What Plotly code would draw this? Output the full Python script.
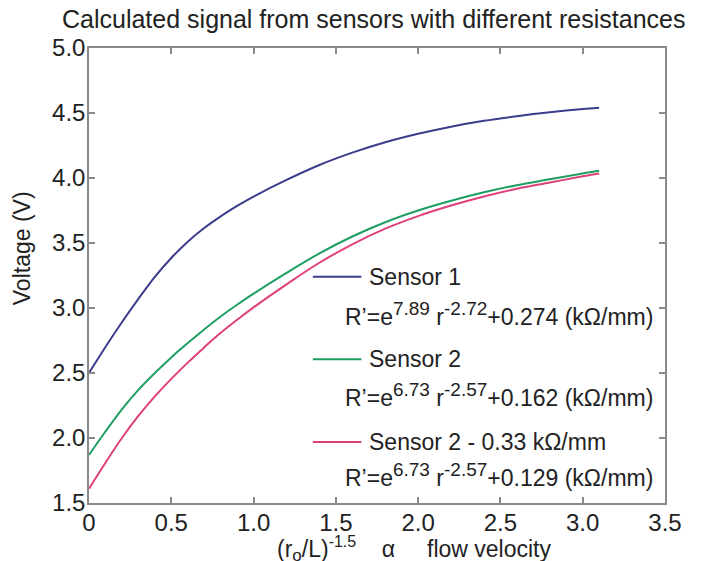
import plotly.graph_objects as go

# Normalised flow parameter (r_o/L)^-1.5
flow = [0, 0.1, 0.2, 0.3, 0.4, 0.5, 0.6, 0.7, 0.8, 0.9, 1.0, 1.2, 1.4, 1.6,
        1.8, 2.0, 2.2, 2.4, 2.6, 2.8, 3.0, 3.1]

# Calculated output voltage for each sensor (V)
sensor1 = [2.50, 2.70, 2.89, 3.07, 3.24, 3.385, 3.51, 3.615, 3.705, 3.785, 3.857,
           3.985, 4.10, 4.195, 4.275, 4.34, 4.395, 4.44, 4.475, 4.505, 4.53, 4.54]
sensor2 = [1.87, 2.05, 2.22, 2.37, 2.50, 2.62, 2.73, 2.835, 2.935, 3.025, 3.11,
           3.27, 3.42, 3.55, 3.66, 3.75, 3.825, 3.89, 3.945, 3.99, 4.035, 4.055]
sensor2_shift = [1.61, 1.81, 2.00, 2.17, 2.32, 2.455, 2.58, 2.697, 2.809, 2.91, 3.005,
                 3.182, 3.348, 3.49, 3.61, 3.707, 3.788, 3.858, 3.917, 3.965, 4.013, 4.035]

names = ["Sensor 1", "Sensor 2", "Sensor 2 - 0.33 kΩ/mm"]


def sup(s, px=19):
    return "<sup><span style='font-size:%dpx'>%s</span></sup>" % (px, s)


def sub(s, px=19):
    return "<sub><span style='font-size:%dpx'>%s</span></sub>" % (px, s)


formulas = [
    "R’=e" + sup("7.89") + " r" + sup("-2.72") + "+0.274 (kΩ/mm)",
    "R’=e" + sup("6.73") + " r" + sup("-2.57") + "+0.162 (kΩ/mm)",
    "R’=e" + sup("6.73") + " r" + sup("-2.57") + "+0.129 (kΩ/mm)",
]
colors = ["#3c3c8c", "#1f9e62", "#e0407a"]
series = [sensor1, sensor2, sensor2_shift]

x_ticks = [0, 0.5, 1.0, 1.5, 2.0, 2.5, 3.0, 3.5]
x_labels = ["0", "0.5", "1.0", "1.5", "2.0", "2.5", "3.0", "3.5"]
y_ticks = [1.5, 2.0, 2.5, 3.0, 3.5, 4.0, 4.5, 5.0]
y_labels = ["1.5", "2.0", "2.5", "3.0", "3.5", "4.0", "4.5", "5.0"]

FONT = "Liberation Sans, Arial, sans-serif"
TXT = "#222222"
AX = "#8a8a8a"

fig = go.Figure()
for name, vals, col in zip(names, series, colors):
    fig.add_trace(go.Scatter(x=flow, y=vals, mode="lines", name=name,
                             line=dict(color=col, width=2, shape="spline", smoothing=1.0),
                             showlegend=False))

# Hand-placed legend: coloured sample line, series name, fitted formula
leg_line_y = [3.24, 2.605, 1.97]
form_y = [2.955, 2.33, 1.715]
for i in range(3):
    fig.add_shape(type="line", xref="x", yref="y", x0=1.36, x1=1.655,
                  y0=leg_line_y[i], y1=leg_line_y[i],
                  line=dict(color=colors[i], width=2))
    fig.add_annotation(x=1.69, y=leg_line_y[i], xref="x", yref="y",
                       text=names[i], showarrow=False, xanchor="left",
                       yanchor="middle", font=dict(size=23, color=TXT, family=FONT))
    fig.add_annotation(x=1.545, y=form_y[i], xref="x", yref="y",
                       text=formulas[i], showarrow=False, xanchor="left",
                       yanchor="middle", font=dict(size=23, color=TXT, family=FONT))

fig.add_annotation(x=0.5, y=1.0, xref="paper", yref="paper", yshift=29, xshift=-4,
                   text="Calculated signal from sensors with different resistances",
                   showarrow=False, xanchor="center", yanchor="middle",
                   font=dict(size=25, color=TXT, family=FONT))
nb = "\u00a0"
fig.add_annotation(x=0.323, y=0, xref="paper", yref="paper", yshift=-46,
                   text="(r" + sub("o", 17) + "/L)" + sup("-1.5", 16) + nb * 4 + "α"
                        + nb * 5 + "flow velocity",
                   showarrow=False, xanchor="left", yanchor="middle",
                   font=dict(size=23, color=TXT, family=FONT))
fig.add_annotation(x=0, y=0.56, xref="paper", yref="paper", xshift=-67,
                   text="Voltage (V)", textangle=-90,
                   showarrow=False, xanchor="center", yanchor="middle",
                   font=dict(size=23, color=TXT, family=FONT))

axis_common = dict(showline=True, linecolor=AX, linewidth=1.5, mirror="ticks",
                   ticks="inside", ticklen=6, tickcolor=AX, tickwidth=1.5,
                   showgrid=False, zeroline=False,
                   tickfont=dict(size=24, color=TXT, family=FONT))

fig.update_xaxes(range=[0, 3.5], tickvals=x_ticks, ticktext=x_labels,
                 ticklabelstandoff=-3, **axis_common)
fig.update_yaxes(range=[1.5, 5.0], tickvals=y_ticks, ticktext=y_labels,
                 ticklabelstandoff=-3, **axis_common)

fig.update_layout(width=710, height=561, plot_bgcolor="white", paper_bgcolor="white",
                  margin=dict(l=89, r=45, t=48, b=58), showlegend=False)

fig.write_html("out.html")
